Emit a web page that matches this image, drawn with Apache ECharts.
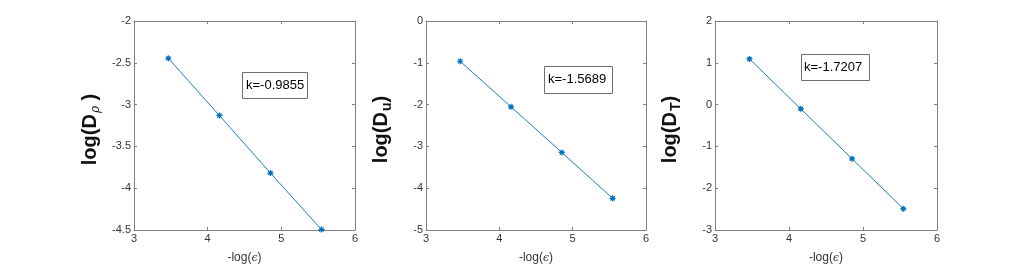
<!DOCTYPE html>
<html>
<head>
<meta charset="utf-8">
<script src="https://cdn.jsdelivr.net/npm/echarts@6/dist/echarts.min.js"></script>
<style>
html,body{margin:0;padding:0;background:#fff;}
#c{width:1035px;height:273px;}
</style>
</head>
<body>
<div id="c"></div>
<script>
// ---- data ----
var xVals = [3.466, 4.159, 4.852, 5.545];          // -log(eps)
var rhoVals = [-2.446, -3.130, -3.819, -4.495];    // log(D_rho)
var uVals = [-0.963, -2.054, -3.145, -4.243];      // log(D_u)
var tVals = [1.093, -0.102, -1.297, -2.490];       // log(D_T)
var slopeLabels = ['k=-0.9855', 'k=-1.5689', 'k=-1.7207'];
var xTicks = {min: 3, max: 6, interval: 1};
var yTicks = [
  {min: -4.5, max: -2, interval: 0.5},
  {min: -5, max: 0, interval: 1},
  {min: -3, max: 2, interval: 1}
];
var yNames = [
  '{b|log(D}{s|ρ}{b| )}',
  '{b|log(D}{su|u}{b|)}',
  '{b|log(D}{su|T}{b|)}'
];

var FONT = 'Liberation Sans, Arial, Helvetica, sans-serif';
var AX = '#808080';
var LBL = '#333333';
var BLUE = '#0072BD';
var ASTER = 'path://M0,5L10,5M5,0L5,10M1.5,1.5L8.5,8.5M8.5,1.5L1.5,8.5';

var grids = [
  {left: 134, top: 21, width: 221, height: 209},
  {left: 426, top: 21, width: 220, height: 209},
  {left: 715, top: 21, width: 222, height: 209}
];
var seriesVals = [rhoVals, uVals, tVals];

var xAxes = [], yAxes = [], series = [], titles = [];
var boxPads = [[6,4,6,4],[6,7,7,4],[6,8,6,3]];
var boxPos = [[242,72],[544,66],[801,54]];

for (var i = 0; i < 3; i++) {
  var axLine = {show: true, onZero: false, lineStyle: {color: AX, width: 1}};
  var tick = {show: true, inside: true, length: 3, lineStyle: {color: AX}};
  xAxes.push({
    type: 'value', gridIndex: i, position: 'bottom',
    min: xTicks.min, max: xTicks.max, interval: xTicks.interval,
    axisLine: axLine, axisTick: tick, splitLine: {show: false},
    axisLabel: {color: LBL, fontSize: 11, fontFamily: FONT, margin: 3},
    name: '{t|-log(}{e|ϵ}{t|)}', nameLocation: 'middle', nameGap: 22,
    nameTextStyle: {rich: {
      t: {fontSize: 12, color: LBL, fontFamily: FONT},
      e: {fontSize: 11, color: LBL, fontFamily: 'DejaVu Serif, serif', fontStyle: 'italic'}
    }}
  });
  xAxes.push({
    type: 'value', gridIndex: i, position: 'top',
    min: xTicks.min, max: xTicks.max, interval: xTicks.interval,
    axisLine: axLine, axisTick: tick, splitLine: {show: false},
    axisLabel: {show: false}
  });
  yAxes.push({
    type: 'value', gridIndex: i, position: 'left',
    min: yTicks[i].min, max: yTicks[i].max, interval: yTicks[i].interval,
    axisLine: axLine, axisTick: tick, splitLine: {show: false},
    axisLabel: {color: LBL, fontSize: 11, fontFamily: FONT, margin: 3},
    name: yNames[i], nameLocation: 'middle', nameGap: 32, nameRotate: 90,
    nameTextStyle: {padding: [0, 8, 0, 0], rich: {
      b: {fontSize: 20, fontWeight: 'bold', color: '#111', fontFamily: FONT, lineHeight: 22},
      s: {fontSize: 12, color: '#111', fontFamily: 'DejaVu Serif, serif', fontStyle: 'italic', padding: [12, 0, 0, 1]},
      su: {fontSize: 14, fontWeight: 'bold', color: '#111', fontFamily: FONT, padding: [12, 0, 0, 1]}
    }}
  });
  yAxes.push({
    type: 'value', gridIndex: i, position: 'right',
    min: yTicks[i].min, max: yTicks[i].max, interval: yTicks[i].interval,
    axisLine: axLine, axisTick: tick, splitLine: {show: false},
    axisLabel: {show: false}
  });
  var pts = [];
  for (var j = 0; j < xVals.length; j++) pts.push([xVals[j], seriesVals[i][j]]);
  series.push({
    type: 'line', xAxisIndex: 2 * i, yAxisIndex: 2 * i,
    data: pts, symbol: ASTER, symbolSize: 6, showSymbol: true,
    lineStyle: {color: BLUE, width: 0.9},
    itemStyle: {color: BLUE, borderColor: BLUE, borderWidth: 1.2},
    animation: false, silent: true
  });
  titles.push({
    text: slopeLabels[i], left: boxPos[i][0], top: boxPos[i][1],
    padding: boxPads[i], borderColor: '#6f6f6f', borderWidth: 1, backgroundColor: '#fff',
    textStyle: {fontSize: 13, fontWeight: 'normal', color: '#000', fontFamily: FONT, lineHeight: 15}
  });
}

var chart = echarts.init(document.getElementById('c'), null, {renderer: 'canvas'});
chart.setOption({
  animation: false,
  backgroundColor: '#fff',
  title: titles,
  grid: grids,
  xAxis: xAxes,
  yAxis: yAxes,
  series: series
});
</script>
</body>
</html>
